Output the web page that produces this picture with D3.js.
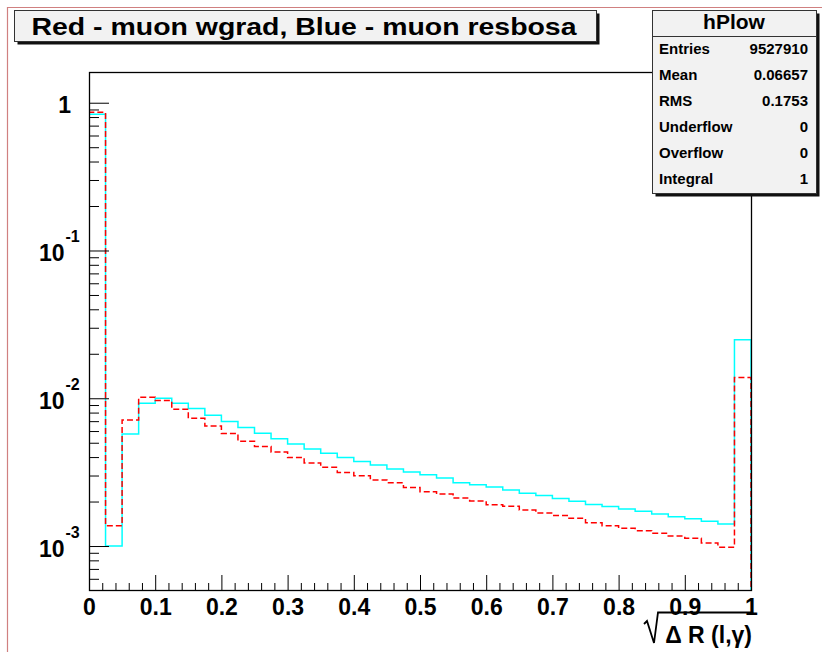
<!DOCTYPE html>
<html>
<head>
<meta charset="utf-8">
<script src="https://cdn.jsdelivr.net/npm/d3@7"></script>
<style>
  body { margin: 0; background: #fff; }
  svg { display: block; }
  text { font-family: "Liberation Sans", Arial, Helvetica, sans-serif; font-weight: bold; fill: #000; }
</style>
</head>
<body>
<script>
// histogram binning (40 bins of 0.025 on [0,1])
var nBins = 40;
var xLow = 0, xHigh = 1;

// Red - muon wgrad (dashed)
var wgrad = [0.861, 1.37e-3, 7.13e-3, 1.016e-2, 9.64e-3, 8.43e-3, 7.32e-3, 6.50e-3, 5.77e-3, 5.11e-3,
             4.71e-3, 4.33e-3, 3.97e-3, 3.65e-3, 3.41e-3, 3.15e-3, 2.99e-3, 2.80e-3, 2.68e-3, 2.49e-3,
             2.33e-3, 2.25e-3, 2.11e-3, 2.02e-3, 1.90e-3, 1.86e-3, 1.75e-3, 1.67e-3, 1.61e-3, 1.54e-3,
             1.44e-3, 1.37e-3, 1.32e-3, 1.27e-3, 1.22e-3, 1.17e-3, 1.13e-3, 1.05e-3, 0.98e-3, 1.38e-2];

// Blue - muon resbosa (solid cyan)
var resbosa = [0.834, 1.00e-3, 5.74e-3, 9.25e-3, 1.00e-2, 9.25e-3, 8.51e-3, 7.67e-3, 6.95e-3, 6.33e-3,
               5.79e-3, 5.33e-3, 4.91e-3, 4.54e-3, 4.24e-3, 3.98e-3, 3.74e-3, 3.54e-3, 3.32e-3, 3.17e-3,
               3.04e-3, 2.89e-3, 2.68e-3, 2.60e-3, 2.51e-3, 2.39e-3, 2.28e-3, 2.20e-3, 2.10e-3, 2.01e-3,
               1.91e-3, 1.85e-3, 1.78e-3, 1.72e-3, 1.65e-3, 1.58e-3, 1.53e-3, 1.47e-3, 1.41e-3, 2.49e-2];

// axis ticks
var xTicks = [0, 0.1, 0.2, 0.3, 0.4, 0.5, 0.6, 0.7, 0.8, 0.9, 1];
var yDecades = [0, -1, -2, -3];
var yRange = [5.04e-4, 1.614];

// stats box
var statsTitle = "hPlow";
var statsNames = ["Entries", "Mean", "RMS", "Underflow", "Overflow", "Integral"];
var statsValues = ["9527910", "0.06657", "0.1753", "0", "0", "1"];

var titleText = "Red - muon wgrad, Blue - muon resbosa";

// 常量
var W = 822, H = 652;
var fx0 = 89, fx1 = 751, fy0 = 72, fy1 = 590;

var svg = d3.select("body").append("svg").attr("width", W).attr("height", H);
svg.append("rect").attr("width", W).attr("height", H).attr("fill", "#fff");

// pad border (left / top)
svg.append("path").attr("d", "M7.5," + H + "V7.5H" + W)
    .attr("fill", "none").attr("stroke", "#d08080").attr("stroke-width", 1.2);

var x = d3.scaleLinear().domain([xLow, xHigh]).range([fx0, fx1]);
var y = d3.scaleLog().domain(yRange).range([fy1, fy0]);
var edges = d3.range(nBins + 1).map(function(i) { return xLow + (xHigh - xLow) * i / nBins; });

svg.append("clipPath").attr("id", "fclip").append("rect")
    .attr("x", fx0).attr("y", fy0).attr("width", fx1 - fx0 + 1).attr("height", fy1 - fy0 + 1);

function stepPath(vals) {
    var p = "M" + x(edges[0]) + "," + fy1;
    vals.forEach(function(v, i) {
        p += "V" + y(v) + "H" + x(edges[i + 1]);
    });
    return p + "V" + fy1;
}

var hg = svg.append("g").attr("clip-path", "url(#fclip)");
hg.append("path").attr("d", stepPath(resbosa))
    .attr("fill", "none").attr("stroke", "#00ffff").attr("stroke-width", 1.5);
hg.append("path").attr("d", stepPath(wgrad))
    .attr("fill", "none").attr("stroke", "#ff0000").attr("stroke-width", 1.5)
    .attr("stroke-dasharray", "6,3");

// frame (drawn over the histogram edges)
svg.append("rect").attr("x", fx0 + 0.5).attr("y", fy0 + 0.5)
    .attr("width", fx1 - fx0).attr("height", fy1 - fy0)
    .attr("fill", "none").attr("stroke", "#000").attr("stroke-width", 1.3);

// x axis
var xMinor = d3.range(0, 50).map(function(i) { return i * 0.02; }).filter(function(v) { return Math.abs(v * 10 - Math.round(v * 10)) > 1e-6; });
svg.append("g").attr("transform", "translate(0," + fy1 + ")")
    .call(d3.axisBottom(x).tickValues(xMinor).tickSize(-7).tickFormat(""))
    .call(function(g) { g.select(".domain").remove(); g.selectAll("line").attr("stroke", "#000"); });
var xa = svg.append("g").attr("transform", "translate(0," + fy1 + ")")
    .call(d3.axisBottom(x).tickValues(xTicks).tickSize(-15).tickFormat(d3.format("")));
xa.select(".domain").remove();
xa.selectAll("line").attr("stroke", "#000");
xa.selectAll("text").attr("y", 25).attr("dy", null)
    .attr("font-size", 23).attr("font-family", null).attr("fill", "#000");
xa.attr("font-family", null);

// y axis
var yMajor = yDecades.map(function(e) { return Math.pow(10, e); });
var yMinor = [];
[1, 0, -1, -2, -3, -4].forEach(function(e) {
    for (var k = 2; k <= 9; k++) {
        var v = k * Math.pow(10, e);
        if (v >= yRange[0] && v <= yRange[1]) yMinor.push(v);
    }
});
svg.append("g").attr("transform", "translate(" + fx0 + ",0)")
    .call(d3.axisLeft(y).tickValues(yMinor).tickSize(-10).tickFormat(""))
    .call(function(g) { g.select(".domain").remove(); g.selectAll("line").attr("stroke", "#000"); });
svg.append("g").attr("transform", "translate(" + fx0 + ",0)")
    .call(d3.axisLeft(y).tickValues(yMajor).tickSize(-20).tickFormat(""))
    .call(function(g) { g.select(".domain").remove(); g.selectAll("line").attr("stroke", "#000"); });

yDecades.forEach(function(e) {
    var yy = y(Math.pow(10, e));
    if (e === 0) {
        svg.append("text").attr("x", 71).attr("y", yy + 10.5)
            .attr("text-anchor", "end").attr("font-size", 23).text("1");
    } else {
        svg.append("text").attr("x", 64.5).attr("y", yy + 10.5)
            .attr("text-anchor", "end").attr("font-size", 23).text("10");
        svg.append("text").attr("x", 65.5).attr("y", yy - 8)
            .attr("font-size", 16).text(String(e));
    }
});

// x axis title: sqrt(ΔR(l,γ))
svg.append("path").attr("d", "M644,624L647,621L654,643L658,612.5H752")
    .attr("fill", "none").attr("stroke", "#000").attr("stroke-width", 1.8);
svg.append("text").attr("x", 752).attr("y", 643).attr("text-anchor", "end")
    .attr("font-size", 23).text("\u0394 R (l,\u03b3)");

// title box
var tb = svg.append("g");
tb.append("rect").attr("x", 17.5).attr("y", 13.5).attr("width", 582).attr("height", 31).attr("fill", "#111");
tb.append("rect").attr("x", 14.5).attr("y", 10.5).attr("width", 582).attr("height", 31)
    .attr("fill", "#f2f2f2").attr("stroke", "#333").attr("stroke-width", 1);
tb.append("text").attr("x", 31.5).attr("y", 35).attr("font-size", 23)
    .attr("textLength", 545).attr("lengthAdjust", "spacingAndGlyphs").text(titleText);

// stats box
var sx = 652, sy = 10, sw = 164, sh = 183;
var sb = svg.append("g");
sb.append("rect").attr("x", sx + 3.5).attr("y", sy + 3.5).attr("width", sw).attr("height", sh).attr("fill", "#111");
sb.append("rect").attr("x", sx + 0.5).attr("y", sy + 0.5).attr("width", sw).attr("height", sh)
    .attr("fill", "#f2f2f2").attr("stroke", "#333").attr("stroke-width", 1);
sb.append("line").attr("x1", sx).attr("x2", sx + sw).attr("y1", 36.5).attr("y2", 36.5)
    .attr("stroke", "#333").attr("stroke-width", 1);
sb.append("text").attr("x", sx + sw / 2).attr("y", 29).attr("text-anchor", "middle")
    .attr("font-size", 21).text(statsTitle);
statsNames.forEach(function(n, i) {
    var by = 54 + i * 26;
    sb.append("text").attr("x", 659).attr("y", by).attr("font-size", 15).text(n);
    sb.append("text").attr("x", 808).attr("y", by).attr("text-anchor", "end").attr("font-size", 15).text(statsValues[i]);
});
</script>
</body>
</html>
